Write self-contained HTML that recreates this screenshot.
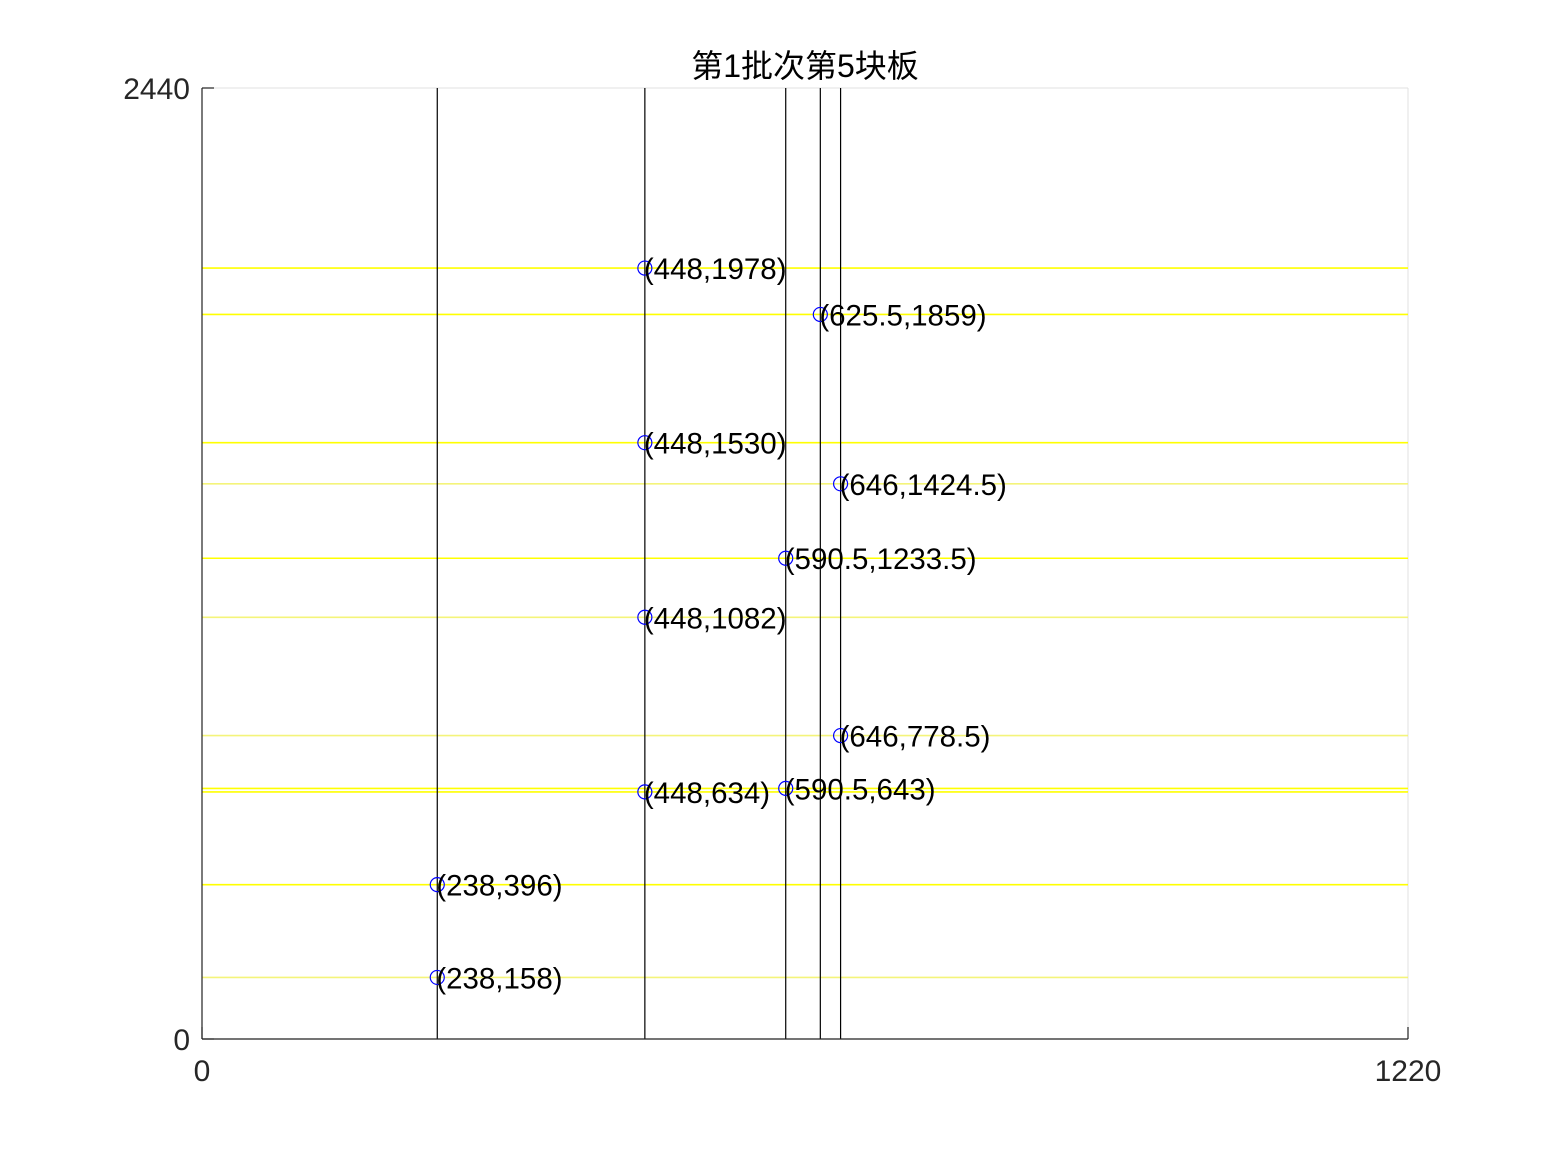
<!DOCTYPE html>
<html><head><meta charset="utf-8"><style>
body{margin:0;background:#fff;}
svg text{font-family:"Liberation Sans","Noto Sans CJK SC",sans-serif;}
</style></head><body>
<svg id="chart" width="1556" height="1167" xmlns="http://www.w3.org/2000/svg">
<rect width="1556" height="1167" fill="#fff"/>
<g id="plot"></g>
</svg>
<script>
const vLines=[238,448,590.5,625.5,646];
const hLines=[1978,1859,1530,1424.5,1233.5,1082,778.5,643,634,396,158];
const hWeak=[false,false,false,true,false,true,true,false,false,false,true];
const ptX=[448,625.5,448,646,590.5,448,646,590.5,448,238,238];
const ptY=[1978,1859,1530,1424.5,1233.5,1082,778.5,643,634,396,158];
const ptLabels=["(448,1978)","(625.5,1859)","(448,1530)","(646,1424.5)","(590.5,1233.5)","(448,1082)","(646,778.5)","(590.5,643)","(448,634)","(238,396)","(238,158)"];
const xTicks=[0,1220];
const yTicks=[0,2440];
const L=202,R=1408,T=88,B=1039;
const sx=v=>L+v/1220*(R-L);
const sy=v=>B-v/2440*(B-T);
const NS="http://www.w3.org/2000/svg";
const g=document.getElementById('plot');
function mk(tag,attrs,parent){const e=document.createElementNS(NS,tag);for(const k in attrs)e.setAttribute(k,attrs[k]);(parent||g).appendChild(e);return e;}
let e=mk('line',{x1:L,y1:T,x2:R,y2:T,stroke:'#e0e0e0','stroke-width':1});


e=mk('line',{x1:R,y1:T,x2:R,y2:B,stroke:'#e0e0e0','stroke-width':1});


hLines.forEach((v,i)=>{
 const l=mk('line',{x1:L,y1:sy(v),x2:R,y2:sy(v),stroke:hWeak[i]?'#f4f47a':'#ffff00','stroke-width':1.6});
 
 
});
vLines.forEach(v=>{
 const l=mk('line',{x1:sx(v),y1:T,x2:sx(v),y2:B,stroke:'#000','stroke-width':1.2});
 
 
});
e=mk('line',{x1:L,y1:T,x2:L,y2:B,stroke:'#222','stroke-width':1.2});


e=mk('line',{x1:L,y1:B,x2:R,y2:B,stroke:'#222','stroke-width':1.2});


xTicks.forEach(v=>{
 const t=mk('line',{x1:sx(v),y1:B,x2:sx(v),y2:B-12,stroke:'#222','stroke-width':1.2});
 
 
 const tx=mk('text',{x:sx(v),y:B+42,'font-size':30,'text-anchor':'middle',fill:'#262626'});
 tx.textContent=v;
 
 
});
yTicks.forEach(v=>{
 const t=mk('line',{x1:L,y1:sy(v),x2:L+12,y2:sy(v),stroke:'#222','stroke-width':1.2});
 
 
 const tx=mk('text',{x:L-12,y:sy(v)+11,'font-size':30,'text-anchor':'end',fill:'#262626'});
 tx.textContent=v;
 
 
});
ptX.forEach((v,i)=>{
 const c=mk('circle',{cx:sx(v),cy:sy(ptY[i]),r:7,fill:'none',stroke:'#0000ff','stroke-width':1.2});
 
 
 const tx=mk('text',{x:sx(v)-1,y:sy(ptY[i])+11,'font-size':29.5,fill:'#000'});
 tx.textContent=ptLabels[i];
 
 
});
const title=mk('text',{x:(L+R)/2,y:77,'font-size':32,'text-anchor':'middle',fill:'#000'});
title.textContent='第1批次第5块板';


</script>
</body></html>
